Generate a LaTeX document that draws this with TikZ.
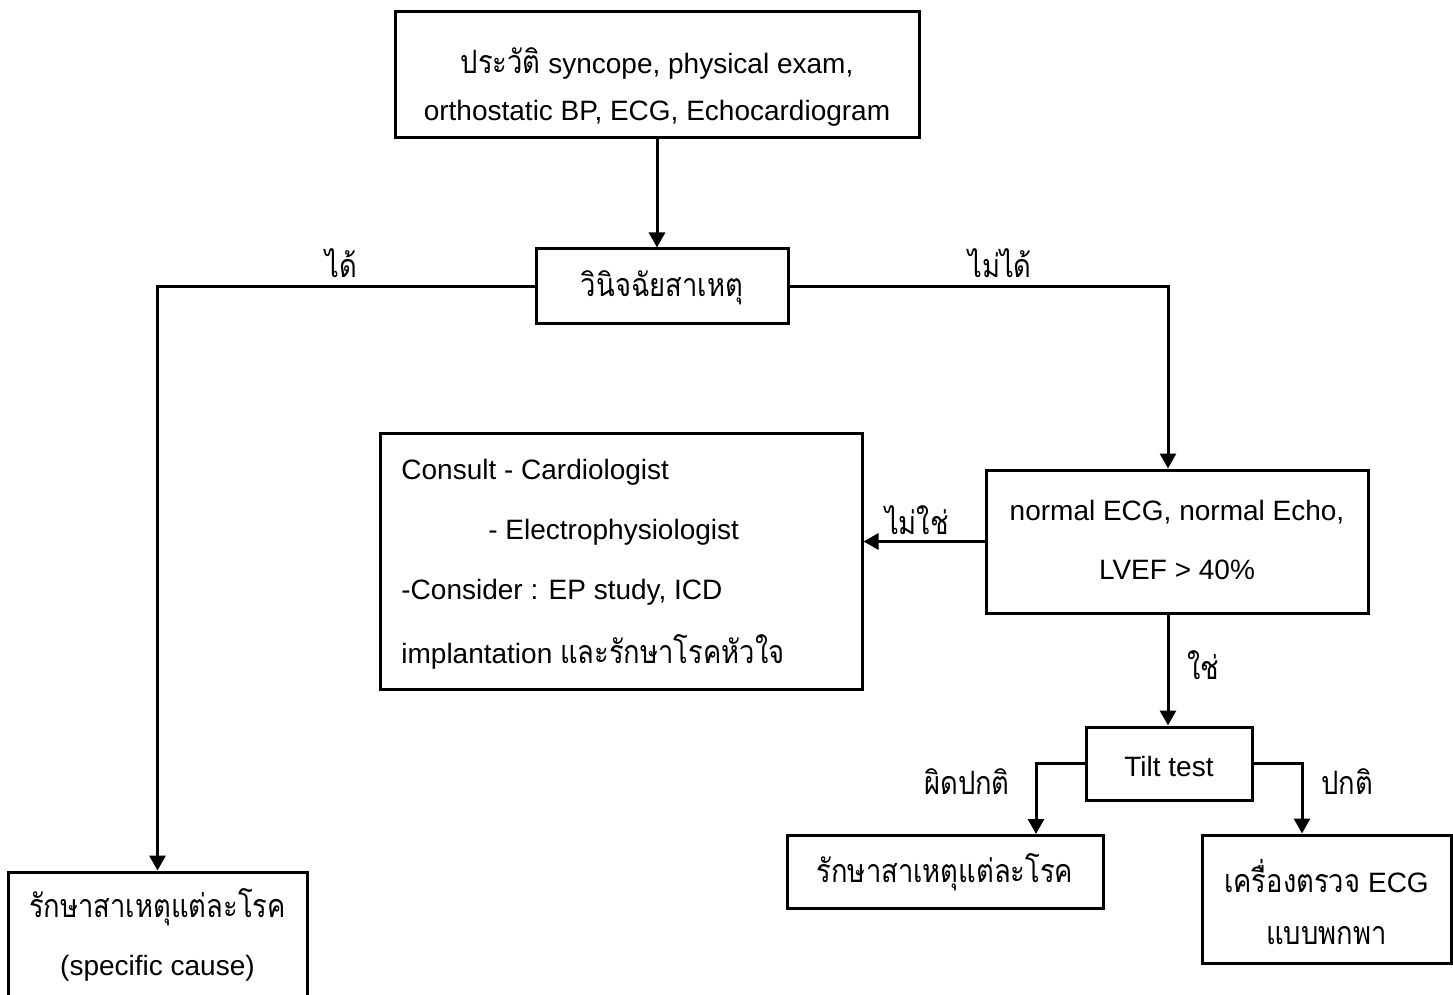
\documentclass[tikz,border=0pt]{standalone}
\usepackage{fontspec}
\setmainfont{Liberation Sans}
\newfontfamily\thaifont[Script=Thai,Scale=1.15,FakeStretch=0.85]{Loma}
\newcommand\thx[1]{{\thaifont #1}}
\usetikzlibrary{arrows.meta}
\begin{document}
\begin{tikzpicture}[x=0.5pt,y=-0.5pt,
  box/.style={draw,line width=1.5pt,inner sep=0pt},
  txt/.style={inner sep=0pt,font=\fontsize{14}{17}\selectfont},
  arr/.style={line width=1.5pt,-{Triangle[length=7.5pt,width=8pt]}},
  ln/.style={line width=1.5pt}]
\clip (0,0) rectangle (1453,995);
\useasboundingbox (0,0) rectangle (1453,995);
% boxes
\node[box,minimum width=262pt,minimum height=63pt] (top) at (657,75) {};
\node[box,minimum width=126pt,minimum height=37pt] (diag) at (662,286) {};
\node[box,minimum width=241pt,minimum height=128pt] (consult) at (621,561) {};
\node[box,minimum width=191pt,minimum height=71.5pt] (normal) at (1177,541.5) {};
\node[box,minimum width=83pt,minimum height=36.5pt] (tilt) at (1169,763.5) {};
\node[box,minimum width=158pt,minimum height=36.5pt] (treat) at (945,872) {};
\node[box,minimum width=124.5pt,minimum height=64pt] (ecg) at (1326.5,899) {};
\node[box,minimum width=149.5pt,minimum height=73pt] (bl) at (157.5,945) {};
% texts
\node[txt] (t1) at (657,63) {\thx{ประวัติ} syncope, physical exam,};
\node[txt] (t2) at (657,113) {orthostatic BP, ECG, Echocardiogram};
\node[txt] (d1) at (662,288) {\thx{วินิจฉัยสาเหตุ}};
\node[txt,anchor=west] (c1) at (401,472) {Consult - Cardiologist};
\node[txt,anchor=west] (c2) at (488,532) {- Electrophysiologist};
\node[txt,anchor=west] (c3) at (401,592) {-Consider : EP study, ICD};
\node[txt,anchor=west] (c4) at (401,652) {implantation \thx{และรักษาโรคหัวใจ}};
\node[txt] (n1) at (1177,512) {normal ECG, normal Echo,};
\node[txt] (n2) at (1177,570) {LVEF > 40\%};
\node[txt] (tt) at (1169,766) {Tilt test};
\node[txt] (r1) at (945,872) {\thx{รักษาสาเหตุแต่ละโรค}};
\node[txt] (e1) at (1326.5,876) {\thx{เครื่องตรวจ} ECG};
\node[txt] (e2) at (1326.5,936) {\thx{แบบพกพา}};
\node[txt] (b1) at (157.5,907) {\thx{รักษาสาเหตุแต่ละโรค}};
\node[txt] (b2) at (157.5,968) {(specific cause)};
% labels
\node[txt] (l1) at (341,263) {\thx{ได้}};
\node[txt] (l2) at (1000,263) {\thx{ไม่ได้}};
\node[txt] (l3) at (917,520) {\thx{ไม่ใช่}};
\node[txt] (l4) at (1203,665) {\thx{ใช่}};
\node[txt] (l5) at (967,782) {\thx{ผิดปกติ}};
\node[txt] (l6) at (1347,782) {\thx{ปกติ}};
% connectors
\coordinate (rk) at (1168,286);
\coordinate (tk1) at (1036,763.5);
\coordinate (tk2) at (1302,763.5);
\draw[arr] (top.south) -- (top.south |- diag.north);
\draw[arr] (diag.west) -| (bl.north);
\draw[arr] (diag.east) -- (rk) -- (rk |- normal.north);
\draw[arr] (normal.west) -- (normal.west -| consult.east);
\draw[arr] (rk |- normal.south) -- (rk |- tilt.north);
\draw[arr] (tilt.west) -- (tk1) -- (tk1 |- treat.north);
\draw[arr] (tilt.east) -- (tk2) -- (tk2 |- ecg.north);
\end{tikzpicture}
\end{document}
